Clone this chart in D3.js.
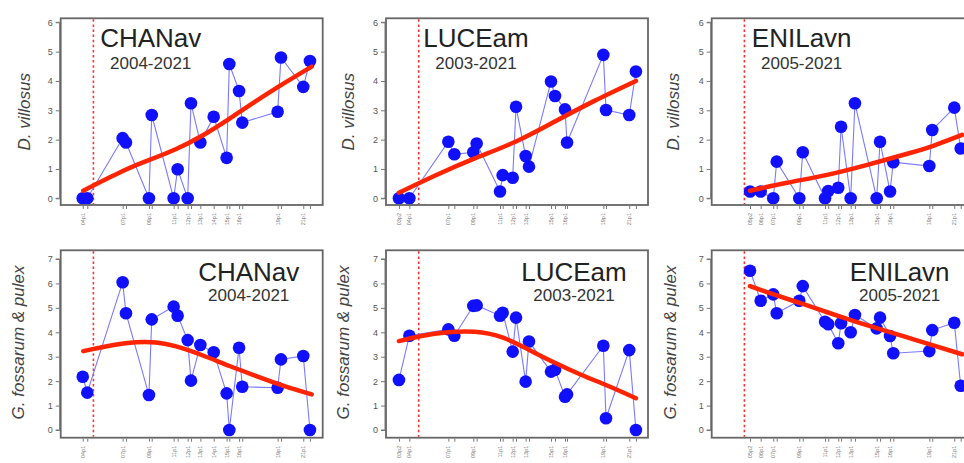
<!DOCTYPE html>
<html><head><meta charset="utf-8">
<script src="https://cdn.jsdelivr.net/npm/d3@7"></script>
<style>body{margin:0;background:#fff;overflow:hidden;} svg{display:block;font-family:"Liberation Sans",Arial,sans-serif;}</style>
</head><body><svg id="c" width="964" height="463"></svg>
<script>
// ---- data ----
const sites = ["CHANav", "LUCEam", "ENILavn"];
const periods = ["2004-2021", "2003-2021", "2005-2021"];
const speciesLabels = ["D. villosus", "G. fossarum & pulex"];
const yTicksTop = [0, 1, 2, 3, 4, 5, 6];
const yTicksBottom = [0, 1, 2, 3, 4, 5, 6, 7];
const introDate = 2004.8;

const chanDates = [2004.00, 2004.34, 2006.99, 2007.24, 2008.96, 2009.17, 2010.81, 2011.11, 2011.86, 2012.11, 2012.81, 2013.81, 2014.78, 2014.98, 2015.71, 2015.95, 2018.60, 2018.85, 2020.52, 2021.02];
const chanVillosus = [0, 0, 2.05, 1.90, 0, 2.84, 0, 0.99, 0, 3.24, 1.90, 2.78, 1.38, 4.58, 3.66, 2.58, 2.95, 4.80, 3.80, 4.68];
const chanGammarus = [2.18, 1.53, 6.05, 4.78, 1.43, 4.53, 5.05, 4.68, 3.68, 2.02, 3.48, 3.18, 1.50, 0, 3.37, 1.77, 1.73, 2.89, 3.03, 0];
const chanTickIdx = [0, 2, 4, 6, 8, 10, 11, 12, 14, 16, 18];
const chanTickLabels = ["04p1", "07p1", "09p1", "11p1", "12p1", "13p1", "14p1", "15p1", "16p1", "19p1", "21p1"];

const luceDates = [2003.32, 2004.10, 2007.02, 2007.47, 2008.89, 2009.14, 2010.89, 2011.09, 2011.84, 2012.09, 2012.81, 2013.06, 2014.71, 2015.01, 2015.76, 2015.91, 2018.63, 2018.83, 2020.57, 2021.07];
const luceVillosus = [0, 0, 1.93, 1.50, 1.57, 1.87, 0.23, 0.79, 0.70, 3.12, 1.44, 1.08, 3.98, 3.49, 3.03, 1.90, 4.89, 3.01, 2.84, 4.32];
const luceGammarus = [2.05, 3.86, 4.12, 3.86, 5.08, 5.10, 4.68, 4.80, 3.21, 4.60, 1.98, 3.62, 2.39, 2.46, 1.36, 1.46, 3.45, 0.48, 3.27, 0];
const luceTickIdx = [0, 1, 2, 4, 6, 8, 10, 12, 14, 16, 18];
const luceTickLabels = ["03p2", "04p1", "07p1", "09p1", "11p1", "12p1", "13p1", "15p1", "16p1", "19p1", "21p1"];

const enilDates = [2005.22, 2006.02, 2006.96, 2007.22, 2008.91, 2009.17, 2010.84, 2011.08, 2011.83, 2012.04, 2012.76, 2013.08, 2014.71, 2014.96, 2015.71, 2015.95, 2018.65, 2018.87, 2020.52, 2021.00];
const enilVillosus = [0.23, 0.23, 0, 1.25, 0, 1.57, 0, 0.25, 0.36, 2.44, 0, 3.24, 0, 1.93, 0.23, 1.23, 1.10, 2.33, 3.09, 1.70];
const enilGammarus = [6.52, 5.29, 5.55, 4.78, 5.29, 5.89, 4.43, 4.33, 3.55, 4.37, 4.00, 4.71, 4.16, 4.60, 3.85, 3.14, 3.23, 4.09, 4.39, 1.81];
const enilTickIdx = [0, 1, 2, 4, 6, 8, 10, 12, 14, 16, 18];
const enilTickLabels = ["05p2", "06p1", "07p1", "09p1", "11p1", "12p1", "13p1", "15p1", "16p1", "19p1", "21p1"];

// fitted trends
const chanTrendVDates = [2004.04, 2007, 2009, 2011, 2013, 2015, 2017, 2019, 2021.15];
const chanTrendV = [0.26, 0.93, 1.31, 1.68, 2.15, 2.72, 3.32, 3.90, 4.49];
const luceTrendVDates = [2003.32, 2006, 2009, 2012, 2015, 2018, 2021.07];
const luceTrendV = [0.19, 0.77, 1.36, 1.92, 2.62, 3.33, 4.00];
const enilTrendVDates = [2005.22, 2008, 2011, 2014, 2017, 2019, 2021.1];
const enilTrendV = [0.26, 0.53, 0.80, 1.14, 1.52, 1.80, 2.16];

const chanTrendGDates = [2004.04, 2006, 2008, 2009.5, 2011, 2013, 2015, 2017, 2019, 2021.15];
const chanTrendG = [3.23, 3.45, 3.59, 3.58, 3.42, 3.05, 2.62, 2.21, 1.82, 1.46];
const luceTrendGDates = [2003.32, 2005, 2007, 2009, 2011, 2013, 2015, 2017, 2019, 2021.07];
const luceTrendG = [3.64, 3.85, 4.00, 4.02, 3.80, 3.30, 2.75, 2.25, 1.80, 1.30];
const enilTrendGDates = [2005.22, 2007, 2009, 2011, 2013, 2015, 2017, 2019, 2021.1];
const enilTrendG = [5.89, 5.55, 5.19, 4.82, 4.46, 4.12, 3.79, 3.45, 3.10];

const xDomain = [2002.35, 2021.975];

// ---- layout ----
const svg = d3.select("#c");
const colLeft = [60.7, 386, 711.7];
const panelW = 262;
const rows = [
  {top: 18.3, bottom: 205, domain: [-0.228, 6.136], ticks: yTicksTop, titleDX: 90, titleY: 46.7, yearY: 69, ylabY: 111.7, ylabOff: [30.5, 32, 32.5]},
  {top: 250.3, bottom: 437.7, domain: [-0.315, 7.356], ticks: yTicksBottom, titleDX: 188, titleY: 280.5, yearY: 301, ylabY: 342.5, ylabOff: [36.7, 37, 36]}
];
const siteData = [
  {dates: chanDates, vals: [chanVillosus, chanGammarus], tIdx: chanTickIdx, tLab: chanTickLabels,
   trend: [[chanTrendVDates, chanTrendV], [chanTrendGDates, chanTrendG]]},
  {dates: luceDates, vals: [luceVillosus, luceGammarus], tIdx: luceTickIdx, tLab: luceTickLabels,
   trend: [[luceTrendVDates, luceTrendV], [luceTrendGDates, luceTrendG]]},
  {dates: enilDates, vals: [enilVillosus, enilGammarus], tIdx: enilTickIdx, tLab: enilTickLabels,
   trend: [[enilTrendVDates, enilTrendV], [enilTrendGDates, enilTrendG]]}
];

rows.forEach((row, r) => {
  siteData.forEach((sd, c) => {
    const L = colLeft[c];
    const x = d3.scaleLinear().domain(xDomain).range([L, L + panelW]);
    const y = d3.scaleLinear().domain(row.domain).range([row.bottom, row.top]);
    const g = svg.append("g");

    // y axis
    const ya = g.append("g").attr("transform", `translate(${L - 1},0)`)
      .call(d3.axisLeft(y).tickValues(row.ticks).tickSize(4).tickPadding(3).tickFormat(d3.format("d")));
    ya.select(".domain").attr("stroke", "#777").attr("stroke-width", 1)
      .attr("d", `M-4,${y(row.ticks[0])}H0V${y(row.ticks[row.ticks.length-1])}H-4`);
    ya.selectAll(".tick line").attr("stroke", "#777");
    ya.selectAll(".tick text").attr("fill", "#555").style("font-size", "9px").style("font-family", "Liberation Sans, Arial, sans-serif");

    // x axis ticks (all sampling dates), labels on a subset
    const xa = g.append("g").attr("transform", `translate(0,${row.bottom + 1})`);
    xa.call(d3.axisBottom(x).tickValues(sd.dates).tickSize(3).tickFormat(""));
    xa.select(".domain").remove();
    xa.selectAll(".tick line").attr("stroke", "#555").attr("stroke-width", 0.8);
    sd.tIdx.forEach((ti, k) => {
      g.append("text")
        .attr("transform", `translate(${x(sd.dates[ti]) + 2},${row.bottom + 8}) rotate(-90)`)
        .attr("text-anchor", "end")
        .attr("fill", "#777")
        .style("font-size", "5.5px")
        .text(sd.tLab[k]);
    });

    // intro vertical line
    g.append("line")
      .attr("x1", x(introDate)).attr("x2", x(introDate))
      .attr("y1", row.top + 1).attr("y2", row.bottom - 1)
      .attr("stroke", "#ff3030").attr("stroke-width", 1.6).attr("stroke-dasharray", "2.5,2.6");

    // connecting line
    const pts = sd.dates.map((d, i) => [d, sd.vals[r][i]]);
    g.append("path").datum(pts)
      .attr("d", d3.line().x(d => x(d[0])).y(d => y(d[1])))
      .attr("fill", "none").attr("stroke", "#7a7aff").attr("stroke-width", 1.1);

    // points
    g.selectAll("circle.pt").data(pts).enter().append("circle")
      .attr("cx", d => x(d[0])).attr("cy", d => y(d[1])).attr("r", 6.3)
      .attr("fill", "#1010ff");

    // trend
    const tr = sd.trend[r][0].map((d, i) => [d, sd.trend[r][1][i]]);
    g.append("path").datum(tr)
      .attr("d", d3.line().x(d => x(d[0])).y(d => y(d[1])).curve(d3.curveNatural))
      .attr("fill", "none").attr("stroke", "#ff2400").attr("stroke-width", 4.5).attr("stroke-linecap", "round");

    // box
    g.append("rect").attr("x", L).attr("y", row.top).attr("width", panelW).attr("height", row.bottom - row.top)
      .attr("fill", "none").attr("stroke", "#666").attr("stroke-width", 1.8);

    // titles
    g.append("text").attr("x", L + row.titleDX).attr("y", row.titleY).attr("text-anchor", "middle")
      .attr("fill", "#222").style("font-size", "26px").text(sites[c]);
    g.append("text").attr("x", L + row.titleDX).attr("y", row.yearY).attr("text-anchor", "middle")
      .attr("fill", "#333").style("font-size", "17px").text(periods[c]);

    // y label
    g.append("text")
      .attr("transform", `translate(${L - row.ylabOff[c]},${row.ylabY}) rotate(-90)`)
      .attr("text-anchor", "middle").attr("fill", "#444")
      .style("font-size", "17px").style("font-style", "italic")
      .text(speciesLabels[r]);
  });
});
</script></body></html>
